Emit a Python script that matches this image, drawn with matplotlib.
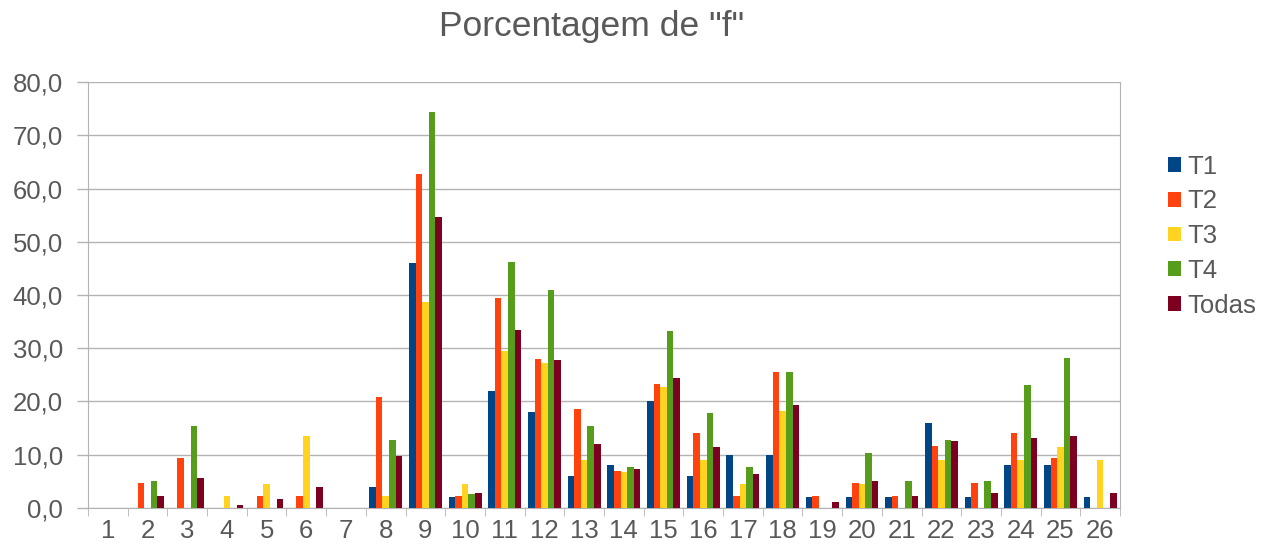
import numpy as np
import matplotlib.pyplot as plt
from matplotlib.ticker import FuncFormatter, FixedLocator

categories = [str(i) for i in range(1, 27)]
series_names = ["T1", "T2", "T3", "T4", "Todas"]

t1 = [0, 0, 0, 0, 0, 0, 0, 4.0, 46.0, 2.0, 22.0, 18.0, 6.0, 8.0, 20.0, 6.0, 10.0, 10.0, 2.0, 2.0, 2.0, 16.0, 2.0, 8.0, 8.0, 2.0]
t2 = [0, 4.7, 9.3, 0, 2.3, 2.3, 0, 20.9, 62.8, 2.3, 39.5, 27.9, 18.6, 7.0, 23.3, 14.0, 2.3, 25.6, 2.3, 4.7, 2.3, 11.6, 4.7, 14.0, 9.3, 0]
t3 = [0, 0, 0, 2.3, 4.5, 13.6, 0, 2.3, 38.6, 4.5, 29.5, 27.3, 9.1, 6.8, 22.7, 9.1, 4.5, 18.2, 0, 4.5, 0, 9.1, 0, 9.1, 11.4, 9.1]
t4 = [0, 5.1, 15.4, 0, 0, 0, 0, 12.8, 74.4, 2.6, 46.2, 41.0, 15.4, 7.7, 33.3, 17.9, 7.7, 25.6, 0, 10.3, 5.1, 12.8, 5.1, 23.1, 28.2, 0]
todas = [0, 2.3, 5.7, 0.6, 1.7, 4.0, 0, 9.7, 54.6, 2.9, 33.5, 27.8, 12.0, 7.4, 24.4, 11.4, 6.3, 19.3, 1.1, 5.1, 2.3, 12.5, 2.8, 13.1, 13.6, 2.8]

colors = ["#004586", "#ff420e", "#ffd320", "#579d1c", "#7e0021"]
text_color = "#595959"
grid_color = "#b3b3b3"

plt.rcParams['font.family'] = ['Liberation Sans', 'DejaVu Sans']

fig = plt.figure(figsize=(12.72, 5.53), dpi=100)
ax = fig.add_axes([0.0692, 0.0814, 0.8113, 0.7703])

x = np.arange(len(categories))
w = 0.166
data = [t1, t2, t3, t4, todas]
for i, (vals, name, c) in enumerate(zip(data, series_names, colors)):
    ax.bar(x + (i - 2) * w, vals, width=w, color=c, label=name, zorder=3)

ax.set_xlim(-0.5, len(categories) - 0.5)
ax.set_ylim(0, 80)
ax.set_yticks(np.arange(0, 81, 10))
ax.yaxis.set_major_formatter(FuncFormatter(lambda v, p: f"{v:.1f}".replace(".", ",")))
ax.grid(axis="y", color=grid_color, linewidth=1, zorder=0)

ax.set_xticks(x)
ax.set_xticklabels(categories)
ax.xaxis.set_minor_locator(FixedLocator(np.arange(-0.5, len(categories), 1)))
ax.tick_params(axis="x", which="major", length=0, pad=8, labelsize=18.5, colors=text_color)
ax.tick_params(axis="x", which="minor", length=6, color=grid_color, direction="out")
ax.tick_params(axis="y", length=8, width=1, color=grid_color, labelcolor=text_color,
               labelsize=18.5, pad=10)

for s in ax.spines.values():
    s.set_color(grid_color)
ax.spines["top"].set_visible(False)

fig.text(0.4654, 0.952, 'Porcentagem de "f"', fontsize=25.5, color=text_color,
         ha="center", va="center")

fig.legend(loc="center left", bbox_to_anchor=(0.8998, 0.573), frameon=False,
           fontsize=18.5, labelcolor=text_color, handlelength=0.5, handleheight=0.5,
           handletextpad=0.25, labelspacing=0.42)

fig.savefig("out.png", dpi=100)
